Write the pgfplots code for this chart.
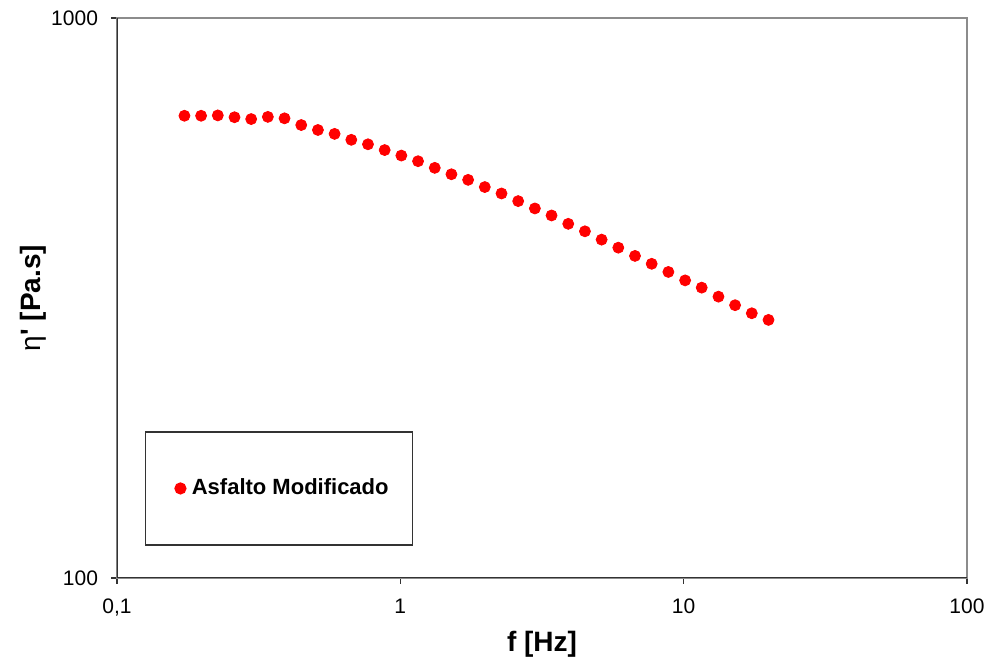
\documentclass[border=0pt]{standalone}
\usepackage{fontspec}
\setmainfont{Liberation Sans}
\usepackage{pgfplots}
\pgfplotsset{compat=1.18}
\pgfplotsset{mylegend/.style={legend image code/.code={\draw[mark repeat=2,mark phase=2,##1,draw=none] plot coordinates {(0cm,0cm)(0.26cm,0cm)(0.39cm,0cm)};}}}
\begin{document}
\begin{tikzpicture}
\path[use as bounding box] (-58.5pt,-44pt) rectangle (435pt,289pt);
\begin{axis}[
  at={(0,0)}, anchor=south west,
  scale only axis, width=425pt, height=280pt,
  xmode=log, ymode=log,
  xmin=0.1, xmax=100, ymin=100, ymax=1000,
  xtick={0.1,1,10,100},
  xticklabels={{0,1},{1},{10},{100}},
  ytick={100,1000}, yticklabels={100,1000},
  xminorticks=false, yminorticks=false,
  tick align=outside, tick pos=left,
  major tick length=3pt,
  tick style={black!80, line width=0.8pt},
  axis line style={draw=black!45, line width=0.9pt},
  ticklabel style={font=\fontsize{10.5}{12}\selectfont},
  xticklabel style={yshift=-4pt},
  yticklabel style={xshift=-3pt},
  xlabel={\textbf{f [Hz]}},
  ylabel={{\normalfont η}\textbf{\textquotesingle{} [Pa.s]}},
  label style={font=\fontsize{14}{16}\selectfont},
  xlabel style={at={(axis description cs:0.5,-0.082)}, anchor=north},
  ylabel style={at={(axis description cs:-0.098,0.5)}, anchor=center},
  legend style={at={(0.033,0.058)}, anchor=south west, draw=black!80, line width=0.6pt,
    inner xsep=10pt, inner ysep=21.5pt, font=\bfseries\fontsize{11}{13}\selectfont},
]
\draw[black!80, line width=1pt] (rel axis cs:0,1) -- (rel axis cs:0,0) -- (rel axis cs:1,0);
\addplot[draw=none, mark=*, mark size=2.75pt, mark options={fill=red, draw=red, solid}, mylegend]
coordinates {
(0.1730,669) (0.1981,669) (0.2269,670) (0.2599,665) (0.2976,660) (0.3408,666)
(0.3903,662) (0.4470,644) (0.5119,631) (0.5862,621) (0.6714,606) (0.7689,595)
(0.8806,581) (1.0085,568) (1.155,555) (1.323,540) (1.515,526) (1.735,514)
(1.987,499) (2.276,486) (2.606,471) (2.985,457) (3.418,444) (3.915,429)
(4.483,416) (5.134,402) (5.880,389) (6.734,376) (7.712,364) (8.832,352)
(10.12,340) (11.58,330) (13.27,318) (15.19,307) (17.40,297) (19.93,289)
};
\addlegendentry{Asfalto Modificado}
\end{axis}
\end{tikzpicture}
\end{document}
